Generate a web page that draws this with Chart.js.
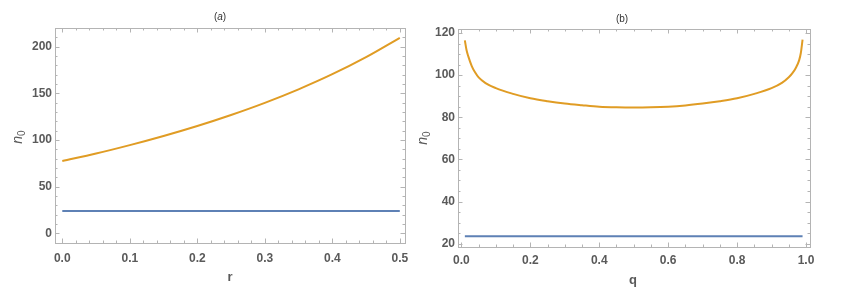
<!DOCTYPE html>
<html lang="en">
<head>
  <meta charset="UTF-8">
  <title>n0 vs r and q</title>
  <script src="https://cdn.jsdelivr.net/npm/chart.js"></script>
  <style>
    body { margin: 0; background: #fff; font-family: 'Liberation Sans', Arial, sans-serif; }
    #wrap { position: relative; width: 845px; height: 298px; }
    canvas { position: absolute; top: 0; }
    .lbl { position: absolute; transform: translate(-50%, -50%); white-space: nowrap; color: #5a5a5a; }
    .ttl { font-size: 10px; color: #333; }
    .ax { font-size: 13px; font-weight: bold; }
    .ny { font-size: 14px; transform: translate(-50%, -50%) rotate(-90deg); }
    .ny sub { font-size: 10px; font-style: normal; }
  </style>
</head>
<body>
<div id="wrap">
  <canvas id="chartA" width="420" height="298" style="left:0"></canvas>
  <canvas id="chartB" width="425" height="298" style="left:420px"></canvas>
  <div class="lbl ttl" style="left:220px;top:16px">(<i>a</i>)</div>
  <div class="lbl ttl" style="left:622px;top:18px">(b)</div>
  <div class="lbl ax" style="left:230px;top:276px">r</div>
  <div class="lbl ax" style="left:633px;top:279px">q</div>
  <div class="lbl ny" style="left:18px;top:137px"><i>n</i><sub>0</sub></div>
  <div class="lbl ny" style="left:423px;top:138px"><i>n</i><sub>0</sub></div>
</div>

<script>
  // panel (a): n0 against r
  const rValues = [0, 0.05, 0.1, 0.15, 0.2, 0.25, 0.3, 0.35, 0.4, 0.45, 0.5];
  const n0OrangeR = [77.5, 85.5, 94.5, 104.3, 115, 126.8, 139.8, 154.3, 170.5, 188.8, 209.5];
  const n0BlueR = [23.8, 23.8, 23.8, 23.8, 23.8, 23.8, 23.8, 23.8, 23.8, 23.8, 23.8];

  // panel (b): n0 against q
  const qValues = [0.01, 0.015, 0.02, 0.03, 0.04, 0.05, 0.07, 0.1, 0.15, 0.2, 0.25, 0.3, 0.35, 0.4, 0.45, 0.5,
                   0.55, 0.6, 0.65, 0.7, 0.75, 0.8, 0.85, 0.9, 0.93, 0.95, 0.96, 0.97, 0.98, 0.985, 0.99];
  const n0OrangeQ = [116.5, 111.8, 108.9, 104.3, 101.2, 98.9, 96.2, 93.8, 91.1, 89.0, 87.6, 86.5, 85.7, 85.0, 84.7, 84.6,
                     84.7, 85.0, 85.6, 86.5, 87.6, 89.0, 91.1, 93.8, 96.3, 99.0, 100.8, 103.3, 107.0, 110.5, 116.8];
  const n0BlueQ = qValues.map(() => 23.5);

  const orange = 'rgb(224,156,36)';
  const blue = 'rgb(94,129,181)';

  const toPoints = (xs, ys) => xs.map((x, i) => ({ x: x, y: ys[i] }));

  // Mathematica-like frame with inward major/minor ticks on all four sides
  const frameTicks = {
    id: 'frameTicks',
    afterDatasetsDraw(chart, args, opts) {
      const { ctx, chartArea: a, scales: { x, y } } = chart;
      ctx.save();
      ctx.strokeStyle = '#b4b4b4';
      ctx.lineWidth = 1;
      ctx.beginPath();
      const xs = opts.x, ys = opts.y;
      for (let i = xs.from; i <= xs.to; i++) {
        const v = i * xs.minor;
        const px = Math.round(x.getPixelForValue(v)) + 0.5;
        if (px < a.left || px > a.right) continue;
        const len = i % xs.every === 0 ? 4.5 : 2.5;
        ctx.moveTo(px, a.bottom); ctx.lineTo(px, a.bottom - len);
        ctx.moveTo(px, a.top); ctx.lineTo(px, a.top + len);
      }
      for (let i = ys.from; i <= ys.to; i++) {
        const v = i * ys.minor;
        const py = Math.round(y.getPixelForValue(v)) + 0.5;
        if (py < a.top || py > a.bottom) continue;
        const len = i % ys.every === 0 ? 4.5 : 2.5;
        ctx.moveTo(a.left, py); ctx.lineTo(a.left + len, py);
        ctx.moveTo(a.right, py); ctx.lineTo(a.right - len, py);
      }
      ctx.stroke();
      ctx.strokeRect(Math.round(a.left) + 0.5, Math.round(a.top) + 0.5,
                     Math.round(a.right - a.left), Math.round(a.bottom - a.top));
      ctx.restore();
    }
  };

  const tickFont = { family: "'Liberation Sans', Arial, sans-serif", size: 12, weight: 'bold' };

  function makeChart(id, xsArr, orangeArr, blueArr, cfg) {
    return new Chart(document.getElementById(id), {
      type: 'line',
      data: {
        datasets: [
          { data: toPoints(xsArr, blueArr), borderColor: blue, borderWidth: 2, pointRadius: 0 },
          { data: toPoints(xsArr, orangeArr), borderColor: orange, borderWidth: 2, pointRadius: 0,
            cubicInterpolationMode: 'monotone' }
        ]
      },
      options: {
        responsive: false,
        animation: false,
        layout: { padding: cfg.padding },
        plugins: { legend: { display: false }, tooltip: { enabled: false }, frameTicks: cfg.ticks },
        scales: {
          x: {
            type: 'linear', min: cfg.xMin, max: cfg.xMax,
            grid: { display: false, drawTicks: false }, border: { display: false },
            afterFit: (s) => { s.height = cfg.xHeight; },
            ticks: { stepSize: cfg.xStep, includeBounds: false, padding: cfg.xPad, color: '#5a5a5a', font: tickFont,
                     maxRotation: 0, callback: (v) => v.toFixed(1) }
          },
          y: {
            type: 'linear', min: cfg.yMin, max: cfg.yMax,
            grid: { display: false, drawTicks: false }, border: { display: false },
            afterFit: (s) => { s.width = cfg.yWidth; },
            ticks: { stepSize: cfg.yStep, includeBounds: false, padding: 3, color: '#5a5a5a', font: tickFont }
          }
        }
      },
      plugins: [frameTicks]
    });
  }

  makeChart('chartA', rValues, n0OrangeR, n0BlueR, {
    padding: { top: 28, right: 15, left: 0, bottom: 0 },
    xMin: -0.0108, xMax: 0.5077, xStep: 0.1, xHeight: 55, xPad: 8,
    yMin: -10.4, yMax: 220, yStep: 50, yWidth: 55,
    ticks: { x: { from: 0, to: 25, minor: 0.02, every: 5 }, y: { from: -1, to: 22, minor: 10, every: 5 } }
  });

  makeChart('chartB', qValues, n0OrangeQ, n0BlueQ, {
    padding: { top: 29, right: 35, left: 0, bottom: 0 },
    xMin: -0.0099, xMax: 1.0116, xStep: 0.2, xHeight: 51, xPad: 6,
    yMin: 18.4, yMax: 121.9, yStep: 20, yWidth: 38,
    ticks: { x: { from: 0, to: 20, minor: 0.05, every: 4 }, y: { from: 4, to: 24, minor: 5, every: 4 } }
  });
</script>
</body>
</html>
